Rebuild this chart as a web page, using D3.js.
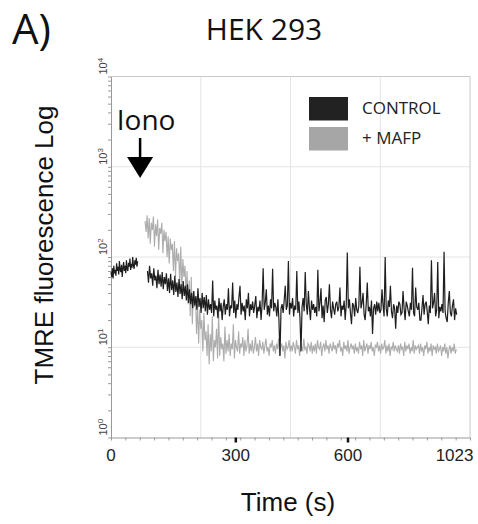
<!DOCTYPE html>
<html>
<head>
<meta charset="utf-8">
<script src="https://cdn.jsdelivr.net/npm/d3@7"></script>
<style>
body { margin: 0; background: #fff; }
</style>
</head>
<body>
<script>
var width = 478,
    height = 524;

// time axis is the 1024-channel acquisition axis, labels as printed on the figure
var timeTickChannels = [0, 356, 676, 980]
var timeTickLabels = ["0", "300", "600", "1023"]
var majorTickChannels = [356, 676]
var gridChannels = [256, 512, 768]
var decades = [0, 1, 2, 3, 4]

// sampling of the traces (channel of first point, channels between points)
var controlPreStart = 0, controlPreStep = 2
var controlStart = 104, controlStep = 3
var mafpStart = 97, mafpStep = 3
var ionoChannel = 83

// TMRE fluorescence, control cells, before ionomycin
var controlPre = [
    68, 60, 75, 58, 80, 66, 72, 62, 85, 70,
    78, 64, 90, 72, 68, 82, 60, 76, 88, 70,
    80, 66, 92, 74, 70, 86, 78, 96, 72, 84,
    76, 100, 80, 74, 92, 82, 98, 78, 90]

// TMRE fluorescence, control cells, after ionomycin
var control = [
    70, 52, 80, 58, 66, 48, 75, 55, 62, 45, 72, 50, 64, 47, 68, 44, 60, 50, 66, 42,
    58, 40, 65, 43, 55, 38, 62, 41, 52, 36, 57, 39, 50, 34, 54, 37, 48, 33, 50, 31,
    44, 30, 40, 27, 42, 29, 37, 26, 45, 28, 35, 24, 40, 27, 36, 25, 38, 23, 34, 26,
    30, 24, 55, 22, 33, 26, 29, 21, 35, 25, 31, 20, 28, 34, 23, 30, 26, 45, 22, 29,
    27, 52, 24, 33, 21, 30, 26, 36, 48, 23, 31, 25, 29, 20, 34, 27, 40, 22, 30, 26,
    32, 24, 29, 37, 21, 28, 25, 33, 20, 30, 75, 26, 31, 44, 23, 29, 22, 34, 27, 74,
    25, 31, 28, 22, 34, 20, 8, 27, 30, 24, 33, 48, 26, 29, 90, 23, 31, 27, 35, 22,
    29, 26, 70, 24, 32, 21, 9, 28, 35, 25, 68, 30, 23, 42, 27, 20, 33, 26, 30, 24,
    28, 22, 72, 25, 31, 45, 21, 29, 19, 33, 36, 24, 30, 50, 26, 21, 32, 27, 23, 30,
    32, 25, 28, 46, 22, 29, 26, 33, 20, 30, 112, 27, 34, 24, 18, 31, 29, 22, 35, 26,
    24, 29, 78, 27, 31, 40, 23, 20, 30, 52, 25, 28, 22, 33, 14, 27, 30, 23, 32, 25,
    31, 24, 26, 44, 29, 22, 100, 27, 22, 33, 28, 48, 25, 21, 30, 27, 16, 29, 24, 32,
    30, 23, 24, 42, 27, 20, 32, 29, 25, 22, 31, 26, 76, 24, 22, 46, 28, 26, 31, 20,
    20, 27, 38, 23, 30, 32, 25, 18, 29, 24, 92, 27, 31, 40, 22, 26, 88, 21, 28, 25,
    30, 24, 114, 25, 21, 19, 31, 42, 24, 22, 29, 34, 20, 27, 23]

// TMRE fluorescence, + MAFP, after ionomycin
var mafp = [
    250, 190, 290, 160, 270, 140, 240, 200, 280, 130, 230, 170, 260, 120, 210, 180, 240, 110, 200, 150,
    190, 100, 170, 85, 160, 120, 140, 70, 150, 60, 125, 90, 110, 50, 130, 45, 95, 60, 80, 38,
    70, 30, 55, 22, 60, 18, 42, 28, 35, 14, 30, 11, 26, 16, 20, 9, 24, 12, 15, 8,
    18, 6.5, 14, 9, 22, 7, 12, 10, 16, 7.5, 25, 8, 13, 9.5, 11, 7, 17, 8.5, 12, 9,
    14, 8, 11, 9.5, 18, 7.5, 12, 10, 9, 15, 8.5, 11, 10, 13, 8, 12, 9, 10.5, 16, 8.5,
    11, 9, 12, 8.5, 10, 13, 9, 11, 8, 12, 10, 9.5, 11.5, 8.5, 10.5, 12.5, 9, 10, 8, 11,
    10, 12, 9, 10.5, 8.5, 11, 9.5, 12.5, 8, 10, 11, 9, 10.5, 7.5, 11.5, 9.5, 10, 12, 9, 10.5,
    9, 11.5, 10, 8.5, 12, 9.5, 10.5, 8, 11, 10, 9, 12.5, 9.5, 10, 8.5, 11, 10.5, 9, 11.5, 8.5,
    10.5, 9, 11, 8.5, 12, 10, 9.5, 11.5, 8, 10, 11, 9, 12, 9.5, 10.5, 8.5, 11, 10, 9, 11.5,
    9.5, 10.5, 8.5, 11, 10, 12, 9, 10, 8, 11.5, 9.5, 10.5, 9, 12, 8.5, 10, 11, 9.5, 10.5, 8.5,
    11, 9, 10, 8.5, 11.5, 9.5, 10.5, 8, 12, 9, 10, 11, 8.5, 10.5, 9.5, 11.5, 9, 10, 8, 10.5,
    10, 11.5, 9, 10.5, 8.5, 11, 9.5, 10, 12, 8.5, 10.5, 9, 11, 8, 10, 9.5, 11.5, 9, 10.5, 9.5,
    9, 10.5, 8.5, 11, 9.5, 10, 8, 11.5, 9, 10.5, 9.5, 11, 8.5, 10, 9, 12, 8.5, 10.5, 9.5, 10,
    10.5, 8.5, 11, 9, 10, 8, 10.5, 9.5, 11.5, 8.5, 10, 9, 11, 8, 10.5, 9.5, 10, 8.5, 11, 9,
    9.5, 10.5, 8, 10, 9, 11, 8.5, 10, 7.5, 9.5, 10.5, 8.5, 10, 9, 11, 8.5, 9.5]

var legendItems = [
    {name: "CONTROL", color: "#222"},
    {name: "+ MAFP", color: "#a6a6a6"}]

var plotLeft = 111, plotRight = 470, plotTop = 76.5, plotBottom = 437.5

var x = d3.scaleLinear()
    .domain([0, 1024])
    .range([plotLeft, plotRight])

var y = d3.scaleLog()
    .domain([1, 10000])
    .range([plotBottom, plotTop])

var svg = d3.select("body")
  .append("svg")
    .attr("width", width)
    .attr("height", height)
    .style("font-family", "'Open Sans', sans-serif")

// grid
svg.append("g")
    .selectAll("line")
    .data(gridChannels).enter()
  .append("line")
    .attr("x1", function(d) { return x(d) })
    .attr("x2", function(d) { return x(d) })
    .attr("y1", plotTop)
    .attr("y2", plotBottom)
    .attr("stroke", "#e4e4e4")

svg.append("g")
    .selectAll("line")
    .data([1, 2, 3]).enter()
  .append("line")
    .attr("x1", plotLeft)
    .attr("x2", plotRight)
    .attr("y1", function(d) { return y(Math.pow(10, d)) })
    .attr("y2", function(d) { return y(Math.pow(10, d)) })
    .attr("stroke", "#e4e4e4")

// frame top and right
svg.append("path")
    .attr("d", "M" + plotLeft + "," + y(10000) + "H" + x(1024) + "V" + plotBottom)
    .attr("fill", "none")
    .attr("stroke", "#c8c8c8")

// axes
var yAxis = svg.append("g")
    .attr("transform", "translate(" + plotLeft + ",0)")
    .call(d3.axisLeft(y).tickSize(3).tickSizeOuter(0).tickFormat(""))
yAxis.selectAll("line").attr("stroke", "#999")
yAxis.select(".domain").attr("stroke", "#999")

var xAxis = svg.append("g")
    .attr("transform", "translate(0," + plotBottom + ")")
    .call(d3.axisBottom(x).tickValues(d3.range(0, 1025, 1024 / 25)).tickSize(3).tickSizeOuter(0).tickFormat(""))
xAxis.selectAll("line").attr("stroke", "#999")
xAxis.select(".domain").attr("stroke", "#999")

svg.append("g")
    .selectAll("line")
    .data(majorTickChannels).enter()
  .append("line")
    .attr("x1", function(d) { return x(d) })
    .attr("x2", function(d) { return x(d) })
    .attr("y1", plotBottom)
    .attr("y2", plotBottom + 5)
    .attr("stroke", "#111")
    .attr("stroke-width", 2.5)

svg.append("g")
    .selectAll("text")
    .data(timeTickChannels).enter()
  .append("text")
    .attr("x", function(d) { return x(d) })
    .attr("y", 461)
    .attr("text-anchor", "middle")
    .style("font-family", "'Liberation Sans', Arial, sans-serif")
    .style("font-size", "17px")
    .attr("fill", "#222")
    .text(function(d, i) { return timeTickLabels[i] })

var yLabels = svg.append("g")
    .selectAll("text")
    .data(decades).enter()
  .append("text")
    .attr("transform", function(d) { return "translate(106.5," + (y(Math.pow(10, d)) - 2) + ") rotate(-90)" })
    .attr("text-anchor", "start")
    .style("font-family", "'Liberation Sans', Arial, sans-serif")
    .style("font-size", "11px")
    .attr("fill", "#444")
yLabels.append("tspan").text("10")
yLabels.append("tspan")
    .attr("dy", -4)
    .style("font-size", "8px")
    .text(function(d) { return d })

// traces
var line = d3.line()
    .x(function(d) { return x(d[0]) })
    .y(function(d) { return y(d[1]) })

function toPoints(values, start, step) {
    return values.map(function(v, i) { return [start + i * step, v] })
}

svg.append("path")
    .datum(toPoints(mafp, mafpStart, mafpStep))
    .attr("d", line)
    .attr("fill", "none")
    .attr("stroke", "#acacac")
    .attr("stroke-width", 1.1)

svg.append("path")
    .datum(toPoints(controlPre, controlPreStart, controlPreStep))
    .attr("d", line)
    .attr("fill", "none")
    .attr("stroke", "#1e1e1e")
    .attr("stroke-width", 1.2)

svg.append("path")
    .datum(toPoints(control, controlStart, controlStep))
    .attr("d", line)
    .attr("fill", "none")
    .attr("stroke", "#1e1e1e")
    .attr("stroke-width", 1.2)

// ionomycin arrow
var ax = x(ionoChannel), tip = y(750)
svg.append("line")
    .attr("x1", ax).attr("x2", ax)
    .attr("y1", tip - 40).attr("y2", tip - 18)
    .attr("stroke", "#000")
    .attr("stroke-width", 2.5)
svg.append("path")
    .attr("d", "M" + (ax - 13) + "," + (tip - 21) + "L" + (ax + 13) + "," + (tip - 21) + "L" + ax + "," + tip + "Z")
    .attr("fill", "#000")
svg.append("text")
    .attr("x", ax + 6)
    .attr("y", tip - 48)
    .attr("text-anchor", "middle")
    .style("font-size", "28px")
    .attr("fill", "#111")
    .text("Iono")

// legend
var legend = svg.append("g")
    .selectAll("g")
    .data(legendItems).enter()
  .append("g")
    .attr("transform", function(d, i) { return "translate(309," + (97 + i * 30) + ")" })
legend.append("rect")
    .attr("width", 39)
    .attr("height", 23.5)
    .attr("fill", function(d) { return d.color })
legend.append("text")
    .attr("x", 53)
    .attr("y", 17)
    .style("font-size", "17px")
    .attr("fill", "#222")
    .text(function(d) { return d.name })

// titles
svg.append("text")
    .attr("x", 12)
    .attr("y", 44)
    .style("font-size", "42px")
    .attr("fill", "#111")
    .text("A)")

svg.append("text")
    .attr("x", 264)
    .attr("y", 40)
    .attr("text-anchor", "middle")
    .style("font-size", "30px")
    .attr("fill", "#111")
    .text("HEK 293")

svg.append("text")
    .attr("x", 288)
    .attr("y", 511)
    .attr("text-anchor", "middle")
    .style("font-family", "'Liberation Sans', Arial, sans-serif")
    .style("font-size", "26px")
    .attr("fill", "#111")
    .text("Time (s)")

svg.append("text")
    .attr("transform", "translate(53,245) rotate(-90)")
    .attr("text-anchor", "middle")
    .style("font-family", "'Liberation Sans', Arial, sans-serif")
    .style("font-size", "26px")
    .attr("fill", "#111")
    .text("TMRE fluorescence Log")
</script>
</body>
</html>
